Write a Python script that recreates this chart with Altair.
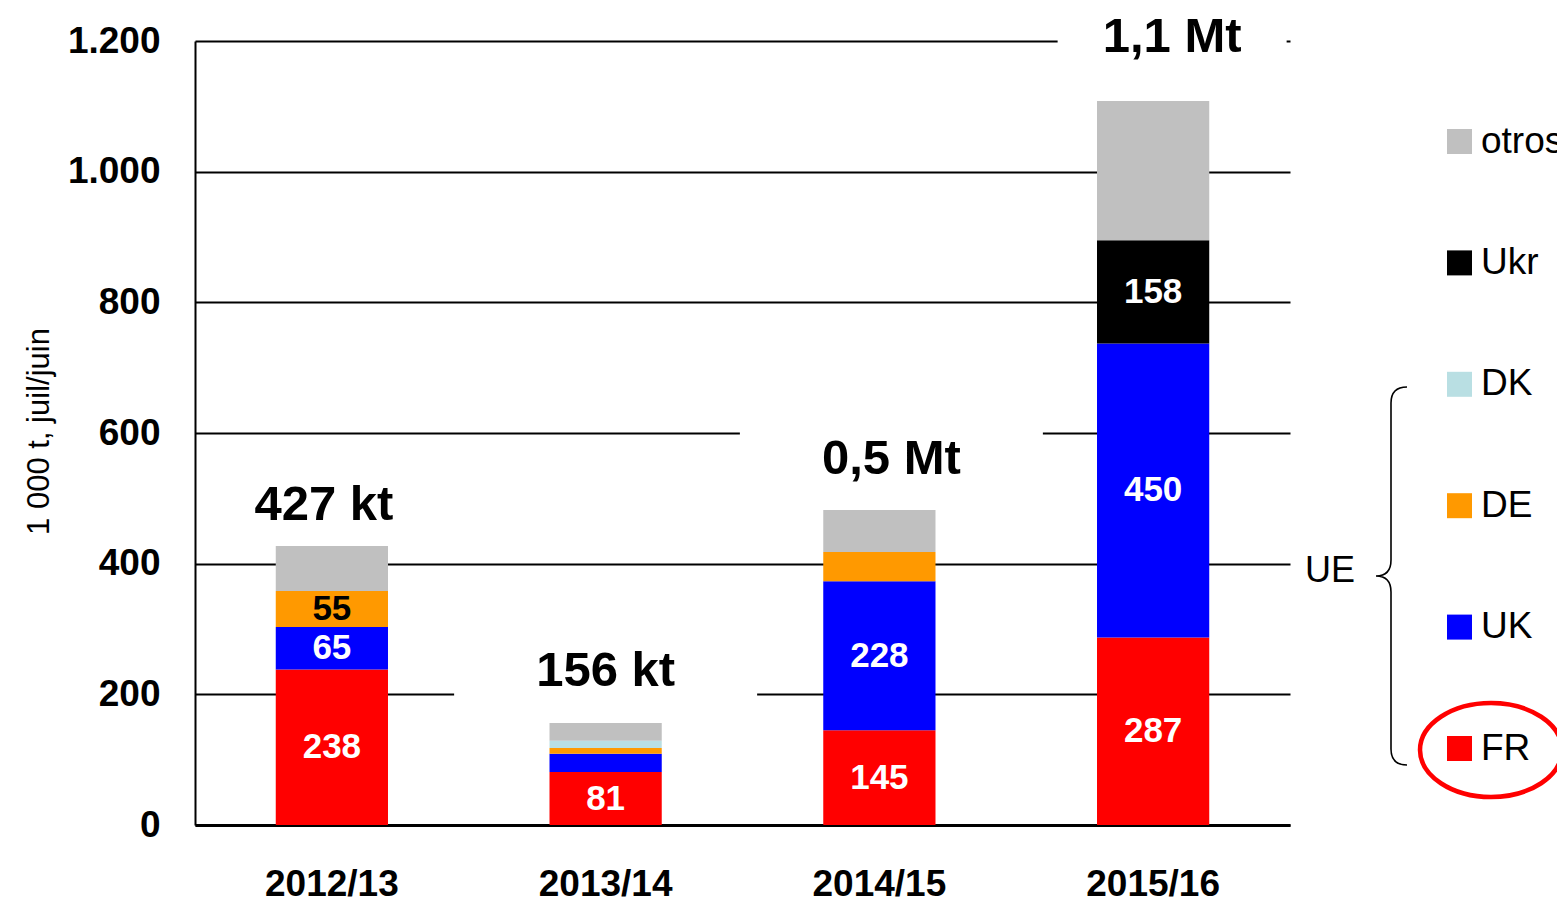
import altair as alt
import pandas as pd

# ---------------- data ----------------
categories = ["2012/13", "2013/14", "2014/15", "2015/16"]
series_order = ["FR", "UK", "DE", "DK", "Ukr", "otros"]   # bottom -> top
FR = [238, 81, 145, 287]
UK = [65, 28, 228, 450]
DE = [55, 9, 45, 0]
DK = [0, 11, 0, 0]
Ukr = [0, 0, 0, 158]
otros = [69, 27, 64, 213]
total_labels = ["427 kt", "156 kt", "0,5 Mt", "1,1 Mt"]
y_ticks = [0, 200, 400, 600, 800, 1000, 1200]
legend_order = ["otros", "Ukr", "DK", "DE", "UK", "FR"]
colors = ["#C0C0C0", "#000000", "#B9DFE3", "#FF9900", "#0000FF", "#FF0000"]

# ---------------- layout ----------------
FONT = "Liberation Sans"
W, H = 1095, 784
YMAX = 1200
PX = H / YMAX
lift_px = [41, 52, 51, 64]      # total label above bar top
shift_px = [-8, 0, 12, 19]      # total label horizontal shift
box_w = [200, 303, 303, 229]    # white box behind total label

vals = {"FR": FR, "UK": UK, "DE": DE, "DK": DK, "Ukr": Ukr, "otros": otros}
rows = []
for i, c in enumerate(categories):
    cum = 0
    for k, s in enumerate(series_order):
        v = vals[s][i]
        if v > 0:
            rows.append(dict(cat=c, series=s, value=v, ord=k, mid=cum + v / 2,
                             show=(s != "otros" and v >= 50)))
        cum += v
df = pd.DataFrame(rows)
totals = [sum(vals[s][i] for s in series_order) for i in range(len(categories))]

x_scale = alt.Scale(paddingInner=0.59, paddingOuter=0.295)
x_axis = alt.Axis(title=None, labelFontSize=37, labelFontWeight="bold",
                  labelColor="black", labelFont=FONT, labelPadding=41,
                  ticks=False, labelAngle=0, domainColor="black",
                  domainWidth=3, grid=False)
y_scale = alt.Scale(domain=[0, YMAX], nice=False)
y_axis = alt.Axis(values=y_ticks, title="1 000 t, juil/juin",
                  labelExpr="replace(format(datum.value, ','), ',', '.')",
                  labelFontSize=37, labelFontWeight="bold", labelFont=FONT,
                  labelColor="black", labelPadding=35, ticks=False, tickSize=0,
                  domainColor="black", domainWidth=2,
                  gridColor="black", gridWidth=2, gridOpacity=1,
                  titleFont=FONT, titleFontSize=31, titleFontWeight="normal",
                  titleColor="black", titleAngle=270, titleX=-147, titleY=390,
                  titleBaseline="alphabetic", titleAlign="center")


def X():
    return alt.X("cat:N", sort=categories, scale=x_scale, axis=x_axis)


def Y(field, **kw):
    return alt.Y(field, scale=y_scale, axis=y_axis, **kw)


bars = alt.Chart(df).mark_bar().encode(
    x=X(),
    y=Y("value:Q", stack="zero"),
    color=alt.Color("series:N", scale=alt.Scale(domain=legend_order, range=colors),
                    legend=alt.Legend(title=None, orient="none", legendX=1246, legendY=82,
                                      symbolType="square", symbolSize=625,
                                      symbolStrokeWidth=0, symbolOpacity=1,
                                      labelFontSize=37, labelFont=FONT, labelColor="black",
                                      rowPadding=83.4, labelOffset=3, padding=0)),
    order=alt.Order("ord:Q"),
)

seg_labels = alt.Chart(df[df["show"]]).mark_text(
    fontSize=35, fontWeight="bold", font=FONT, baseline="middle", align="center"
).encode(
    x=X(),
    y=Y("mid:Q"),
    text=alt.Text("value:Q"),
    color=alt.condition(alt.datum.series == "DE", alt.value("black"), alt.value("white")),
)

BOX = "M-1,-0.2 L1,-0.2 L1,0.2 L-1,0.2 Z"
tot_layers = []
for i, c in enumerate(categories):
    tdf = pd.DataFrame({"cat": [c], "ly": [totals[i] + lift_px[i] / PX],
                        "label": [total_labels[i]]})
    box = alt.Chart(tdf).mark_point(
        shape=BOX, size=box_w[i] ** 2, filled=True, fill="white", opacity=1,
        strokeWidth=0, xOffset=shift_px[i]
    ).encode(x=X(), y=Y("ly:Q"))
    txt = alt.Chart(tdf).mark_text(
        fontSize=49, fontWeight="bold", font=FONT, baseline="middle", align="center",
        color="black", dx=shift_px[i]
    ).encode(x=X(), y=Y("ly:Q"), text="label:N")
    tot_layers.append((box, txt))

one = pd.DataFrame({"a": [0]})
BRACE = ("M31,-189 Q15,-189 15,-173 L15,-16 Q15,0 0,0 "
         "Q15,0 15,16 L15,173 Q15,189 31,189")
brace = alt.Chart(one).mark_point(
    shape=BRACE, size=4, filled=False, stroke="black", strokeWidth=1.6, opacity=1
).encode(x=alt.value(1181), y=alt.value(535))

ELLIPSE = ("M-71,0 C-71,-26 -39,-47 0,-47 C39,-47 71,-26 71,0 "
           "C71,26 39,47 0,47 C-39,47 -71,26 -71,0 Z")
ellipse = alt.Chart(one).mark_point(
    shape=ELLIPSE, size=4, filled=False, stroke="#FF0000", strokeWidth=4.5, opacity=1
).encode(x=alt.value(1296), y=alt.value(709))

ue = alt.Chart(one).mark_text(
    text="UE", fontSize=36, font=FONT, color="black", align="center", baseline="middle"
).encode(x=alt.value(1135), y=alt.value(530))

layers = ([b for b, _ in tot_layers] + [bars, seg_labels]
          + [t for _, t in tot_layers] + [brace, ue, ellipse])

chart = alt.layer(*layers).properties(
    width=W, height=H,
    padding={"left": 187, "top": 33, "right": 267, "bottom": 78},
    autosize=alt.AutoSizeParams(type="none"),
).configure(font=FONT).configure_view(strokeWidth=0)

chart.save("out.html", embed_options={"renderer": "svg", "actions": False})
